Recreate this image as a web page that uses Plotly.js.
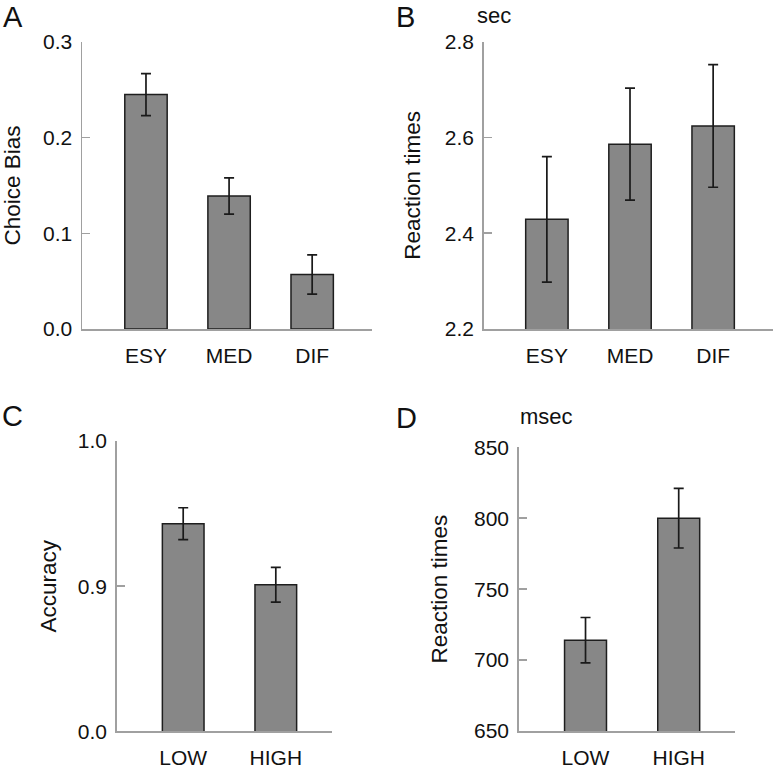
<!DOCTYPE html>
<html>
<head>
<meta charset="utf-8">
<script src="https://cdn.plot.ly/plotly-3.0.1.min.js"></script>
<style>
html,body{margin:0;padding:0;background:#fff;}
#chart{width:774px;height:769px;}
</style>
</head>
<body>
<div id="chart"></div>
<script>
// ---- data ----
const difficultyCats = ['ESY', 'MED', 'DIF'];
const choiceBias = [0.245, 0.139, 0.057];
const choiceBiasErr = [0.022, 0.019, 0.0205];
const rtSec = [2.429, 2.586, 2.624];
const rtSecErr = [0.131, 0.117, 0.128];

const loadCats = ['LOW', 'HIGH'];
const accuracy = [0.943, 0.901];
const accuracyErr = [0.011, 0.012];
const rtMsec = [714, 800];
const rtMsecErr = [16, 21];

const yTicksA = [0, 0.1, 0.2, 0.3];
const yTickTextA = ['0.0', '0.1', '0.2', '0.3'];
const yTicksB = [2.2, 2.4, 2.6, 2.8];
const yTickTextB = ['2.2', '2.4', '2.6', '2.8'];
const yTicksC = [0.8, 0.9, 1.0];
const yTickTextC = ['0.0', '0.9', '1.0'];
const yTicksD = [650, 700, 750, 800, 850];
const yTickTextD = ['650', '700', '750', '800', '850'];

// ---- styling ----
const W = 774, H = 769;
const FONT = 'Liberation Sans, Arial, Helvetica, sans-serif';
const barFill = '#878787';
const barLine = '#1e1e1e';
const axisGray = '#a0a0a0';

function barTrace(x, y, err, xa, ya, width) {
  return {
    type: 'bar', x: x, y: y, xaxis: xa, yaxis: ya, width: width,
    marker: {color: barFill, line: {color: barLine, width: 1.5}},
    error_y: {type: 'data', array: err, visible: true, color: '#1a1a1a', thickness: 1.7, width: 5},
    hoverinfo: 'skip', showlegend: false
  };
}

function xAxis(domainPx, range, anchor) {
  return {
    domain: [domainPx[0] / W, domainPx[1] / W],
    anchor: anchor,
    range: range, type: 'category',
    showline: true, linecolor: axisGray, linewidth: 1.5,
    ticks: '', showgrid: false, zeroline: false,
    tickfont: {family: FONT, size: 21, color: '#111'},
    ticklabelstandoff: 7, fixedrange: true
  };
}

function yAxis(topPx, botPx, range, tv, tt, title, standoff, anchor) {
  return {
    domain: [1 - botPx / H, 1 - topPx / H],
    anchor: anchor,
    range: range, tickvals: tv, ticktext: tt,
    showline: true, linecolor: axisGray, linewidth: 1.5,
    ticks: 'inside', ticklen: 8, tickwidth: 1.5, tickcolor: axisGray,
    showgrid: false, zeroline: false,
    tickfont: {family: FONT, size: 21, color: '#111'},
    ticklabelstandoff: 4,
    title: {text: title, font: {family: FONT, size: 22.5, color: '#111'}, standoff: standoff},
    fixedrange: true
  };
}

const data = [
  barTrace(difficultyCats, choiceBias, choiceBiasErr, 'x', 'y', 0.51),
  barTrace(difficultyCats, rtSec, rtSecErr, 'x2', 'y2', 0.51),
  barTrace(loadCats, accuracy, accuracyErr, 'x3', 'y3', 0.45),
  barTrace(loadCats, rtMsec, rtMsecErr, 'x4', 'y4', 0.45)
];

function label(text, xPx, yPx, size, anchorY) {
  return {
    text: text, xref: 'paper', yref: 'paper',
    x: xPx / W, y: 1 - yPx / H, xanchor: 'left', yanchor: anchorY || 'top',
    showarrow: false, font: {family: FONT, size: size, color: '#111'}
  };
}

const layout = {
  width: W, height: H,
  margin: {l: 0, r: 0, t: 0, b: 0},
  paper_bgcolor: '#fff', plot_bgcolor: '#fff',
  bargap: 0,
  xaxis: xAxis([82, 372], [-0.77, 2.72], 'y'),
  yaxis: yAxis(42, 329, [0, 0.3], yTicksA, yTickTextA, 'Choice Bias', 18, 'x'),
  xaxis2: xAxis([483.7, 773], [-0.76, 2.72], 'y2'),
  yaxis2: yAxis(41.7, 329, [2.2, 2.8], yTicksB, yTickTextB, 'Reaction times', 18, 'x2'),
  xaxis3: xAxis([116.7, 332.3], [-0.718, 1.61], 'y3'),
  yaxis3: yAxis(441, 731.3, [0.8, 1.0], yTicksC, yTickTextC, 'Accuracy', 15, 'x3'),
  xaxis4: xAxis([518.7, 735], [-0.717, 1.604], 'y4'),
  yaxis4: yAxis(447.3, 731, [650, 850], yTicksD, yTickTextD, 'Reaction times', 20, 'x4'),
  annotations: [
    label('A', 1, -1, 29),
    label('B', 394, -1, 29),
    label('C', 0, 398, 29),
    label('D', 394, 400, 29),
    label('sec', 475, 1, 22),
    label('msec', 518, 402, 22)
  ]
};

Plotly.newPlot('chart', data, layout, {displayModeBar: false, staticPlot: true});
</script>
</body>
</html>
